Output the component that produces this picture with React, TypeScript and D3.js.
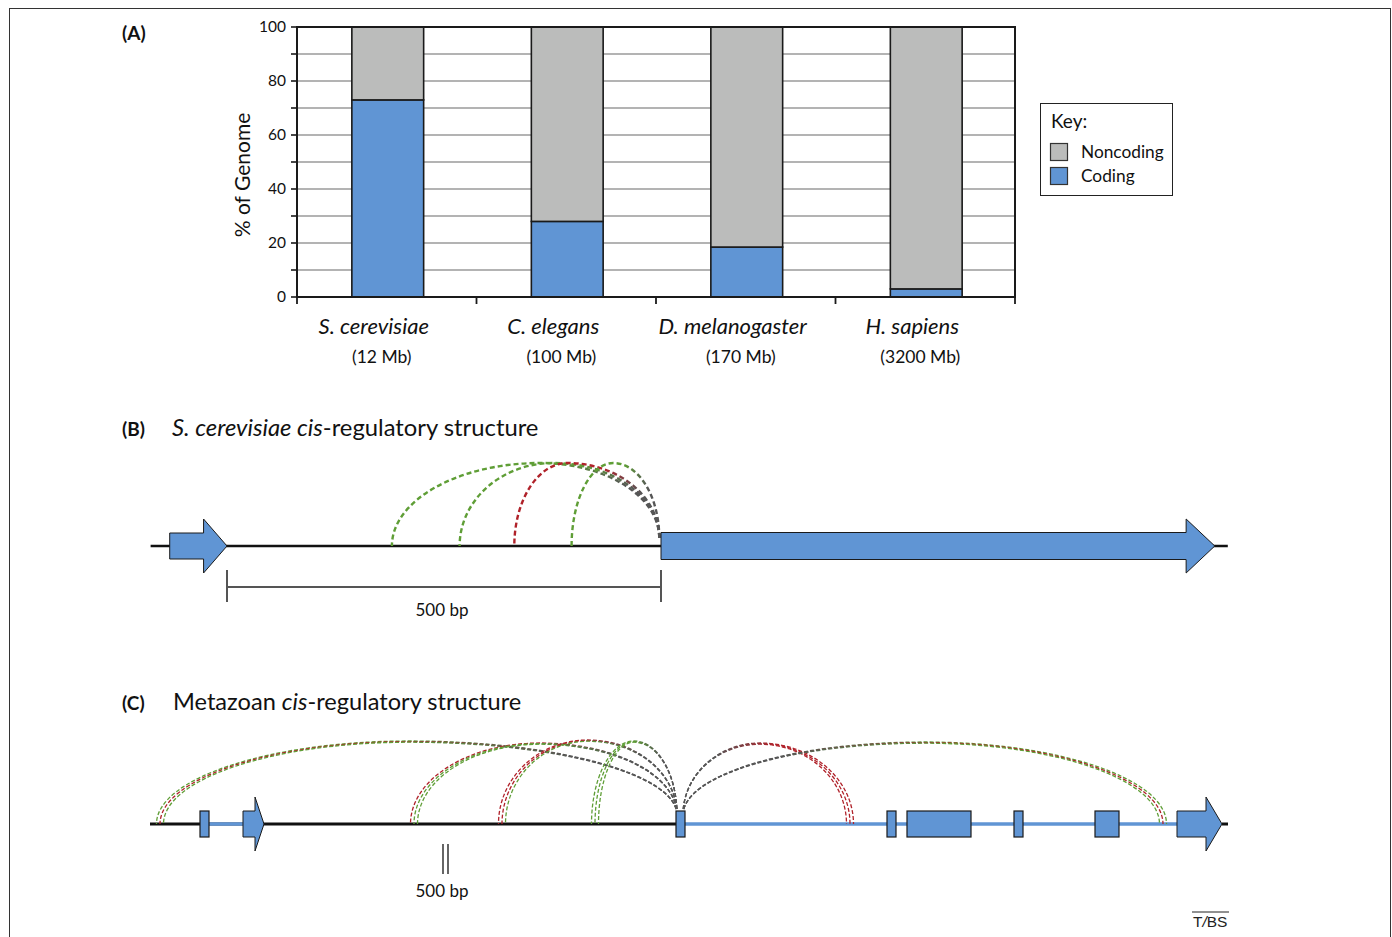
import React from "react";
import * as d3 from "d3";

// ---------- Panel A data ----------
const categories = ["S. cerevisiae", "C. elegans", "D. melanogaster", "H. sapiens"];
const genomeSizes = ["(12 Mb)", "(100 Mb)", "(170 Mb)", "(3200 Mb)"];
const codingPct = [73, 28, 18.5, 3];
const noncodingPct = [27, 72, 81.5, 97];
const yTickLabels = [0, 20, 40, 60, 80, 100];
const yMinorTicks = [0, 10, 20, 30, 40, 50, 60, 70, 80, 90, 100];
const legendKeys = ["Noncoding", "Coding"];

// ---------- Panel B data (bp, 0 = end of upstream gene) ----------
const bLine = [-88, 1153];
const bUpGene = [-66, -27, 0]; // start, head start, tip
const bDownGene = [500, 1105, 1138];
const bScaleBar = [0, 500];
const bArcSources = [190, 268, 331, 397];
const bArcPeaks = [361, 376, 392, 445];
const bArcTypes = ["act", "act", "rep", "act"];
const bArcTarget = 498;

// ---------- Panel C data (kb, 0 = target gene start) ----------
const cLine = [-53, 54.8];
const cUpExon = [-48, -47.1];
const cUpArrow = [-43.7, -42.5, -41.6];
const cTargetExon = [-0.4, 0.5];
const cExons = [[20.7, 21.6], [22.7, 29.1], [33.4, 34.3], [41.5, 43.9]];
const cArrow = [49.7, 52.6, 54.2];
const cScaleBar = [-23.7, -23.2];
const cArcSources = [-52, -26.6, -17.8, -8.5, 17, 48.3];
const cArcPeaks = [-27, -14, -9.2, -4.6, 8, 24.5];
const cArcBundles = [
  ["act", "rep", "act"],
  ["rep", "act", "act"],
  ["rep", "rep", "act"],
  ["act", "act", "act"],
  ["rep", "rep", "rep"],
  ["act", "rep", "act"],
];

const BLUE = "#6095d4";
const GRAY_BAR = "#bbbcbb";
const ARC_COLORS: Record<string, string> = { act: "#5f9e36", rep: "#b0222a" };
const ARC_GRAY = "#565656";
const FONT = "Lato, 'Open Sans', sans-serif";

// Arc drawn from the target end (xt, yt) back to the source (x0, y0) so dashes line up at the target.
function arcPath(x0: number, y0: number, xp: number, yTop: number, xt: number, yt: number) {
  const k = 0.5523;
  const p = d3.path();
  const rx1 = xp - x0;
  const ry1 = y0 - yTop;
  const rx2 = xt - xp;
  const ry2 = yt - yTop;
  p.moveTo(xt, yt);
  p.bezierCurveTo(xt, yt - k * ry2, xp + k * rx2, yTop, xp, yTop);
  p.bezierCurveTo(xp - k * rx1, yTop, x0, y0 - k * ry1, x0, y0);
  return p.toString();
}

function arrowPoints(sx: (v: number) => number, g: number[], yc: number, bodyH: number, headH: number): [number, number][] {
  const [a, b, c] = g.map(sx);
  return [
    [a, yc - bodyH / 2],
    [b, yc - bodyH / 2],
    [b, yc - headH / 2],
    [c, yc],
    [b, yc + headH / 2],
    [b, yc + bodyH / 2],
    [a, yc + bodyH / 2],
  ];
}

const lineGen = d3.line();

export default function App() {
  // ----- Panel A scales -----
  const x = d3.scaleBand<string>().domain(categories).range([297, 1015]);
  const y = d3.scaleLinear().domain([0, 100]).range([297, 27]);
  const barW = x.step() * 0.4;
  const rows = categories.map((c, i) => ({ cat: c, coding: codingPct[i], noncoding: noncodingPct[i] }));
  const stacked = d3.stack<any>().keys(["coding", "noncoding"])(rows);
  const fills: Record<string, string> = { coding: BLUE, noncoding: GRAY_BAR };
  const sepTicks = [...categories.map((c) => x(c) as number), 1015];

  // ----- Panel B scale -----
  const bx = d3.scaleLinear().domain([0, 500]).range([227, 661]);
  const bY = 546;
  const bTop = 463;

  // ----- Panel C scale -----
  const cx = d3.scaleLinear().domain([0, 10]).range([680, 780]);
  const cY = 824;
  const cTops = [741, 743, 740, 741, 743, 742];

  const gradients: JSX.Element[] = [];
  const bPaths: JSX.Element[] = [];
  bArcSources.forEach((s, i) => {
    const id = `bg${i}`;
    const col = ARC_COLORS[bArcTypes[i]];
    const xs = bx(s), xt = bx(bArcTarget);
    gradients.push(
      <linearGradient key={id} id={id} gradientUnits="userSpaceOnUse" x1={xs} x2={xt} y1={0} y2={0}>
        <stop offset="0" stopColor={col} />
        <stop offset="0.6" stopColor={col} />
        <stop offset="0.88" stopColor={ARC_GRAY} />
        <stop offset="1" stopColor={ARC_GRAY} />
      </linearGradient>
    );
    bPaths.push(
      <path key={id} d={arcPath(xs, bY, bx(bArcPeaks[i]), bTop, xt, bY - 8)} fill="none" stroke={`url(#${id})`} strokeWidth={2.4} strokeDasharray="5 3" />
    );
  });

  const cPaths: JSX.Element[] = [];
  cArcSources.forEach((s, i) => {
    const xs0 = cx(s);
    const rightSide = s > 0;
    const xt = rightSide ? cx(cTargetExon[1]) - 2 : cx(cTargetExon[0]) + 1;
    const xp = cx(cArcPeaks[i]);
    cArcBundles[i].forEach((t, j) => {
      const off = (j - 1) * 3.5 * (rightSide ? -1 : 1);
      const xs = xs0 + off;
      const id = `cg${i}_${j}`;
      const col = ARC_COLORS[t];
      gradients.push(
        <linearGradient key={id} id={id} gradientUnits="userSpaceOnUse" x1={xs} x2={xt} y1={0} y2={0}>
          <stop offset="0" stopColor={col} />
          <stop offset="0.45" stopColor={col} />
          <stop offset="0.8" stopColor={ARC_GRAY} />
          <stop offset="1" stopColor={ARC_GRAY} />
        </linearGradient>
      );
      const d = arcPath(xs, cY, xp, cTops[i] + j * 0.6, xt, cY - 9);
      cPaths.push(
        <path key={id} d={d} fill="none" stroke={`url(#${id})`} strokeWidth={1.3} strokeDasharray="4 2" />
      );
    });
  });

  return (
    <svg width={1392} height={937} style={{ position: "absolute", left: 0, top: 0, background: "#fff" }} fontFamily={FONT}>
      <defs>{gradients}</defs>
      <rect x={9.5} y={8.5} width={1381} height={945} fill="none" stroke="#333" strokeWidth={1} />

      {/* ---------------- Panel A ---------------- */}
      <text x={122} y={40} fontSize={19} fontWeight="bold" fill="#111">(A)</text>
      {yMinorTicks.filter((v) => v > 0 && v < 100).map((v) => (
        <line key={`g${v}`} x1={297} x2={1015} y1={y(v)} y2={y(v)} stroke="#9a9a9a" strokeWidth={1.3} />
      ))}
      {stacked.map((layer) =>
        layer.map((d, i) => (
          <rect key={`${layer.key}${i}`} x={(x(categories[i]) as number) + x.step() / 2 - barW / 2 + 1} width={barW}
            y={y(d[1])} height={y(d[0]) - y(d[1])} fill={fills[layer.key]} stroke="#1a1a1a" strokeWidth={1.6} />
        ))
      )}
      <rect x={297} y={27} width={718} height={270} fill="none" stroke="#1a1a1a" strokeWidth={2} />
      {yMinorTicks.map((v) => (
        <line key={`t${v}`} x1={291} x2={297} y1={y(v)} y2={y(v)} stroke="#1a1a1a" strokeWidth={1.6} />
      ))}
      {yTickLabels.map((v) => (
        <text key={`l${v}`} x={286} y={y(v)} dy="0.35em" textAnchor="end" fontSize={15.5} fill="#111">{v}</text>
      ))}
      {sepTicks.map((sx, i) => (
        <line key={`s${i}`} x1={sx} x2={sx} y1={297} y2={304} stroke="#1a1a1a" strokeWidth={1.8} />
      ))}
      <text transform="translate(250,175) rotate(-90)" textAnchor="middle" fontSize={21} fill="#111">% of Genome</text>
      {categories.map((c, i) => {
        const cxm = (x(c) as number) + x.step() / 2;
        return (
          <g key={c}>
            <text x={cxm - 13} y={334} textAnchor="middle" fontSize={22} fontStyle="italic" fill="#111">{c}</text>
            <text x={cxm - 5} y={363} textAnchor="middle" fontSize={17.5} fill="#111">{genomeSizes[i]}</text>
          </g>
        );
      })}
      <rect x={1040.5} y={103.5} width={132} height={92} fill="#fff" stroke="#222" strokeWidth={1} />
      <text x={1051} y={128} fontSize={19} fill="#111">Key:</text>
      {legendKeys.map((k, i) => (
        <g key={k}>
          <rect x={1050.5} y={143.5 + i * 24} width={17} height={17} fill={k === "Coding" ? BLUE : GRAY_BAR} stroke="#333" strokeWidth={1.2} />
          <text x={1081} y={158 + i * 24} fontSize={17.3} fill="#111">{k}</text>
        </g>
      ))}

      {/* ---------------- Panel B ---------------- */}
      <text x={122} y={436} fontSize={19} fontWeight="bold" fill="#111">(B)</text>
      <text x={172} y={436} fontSize={23.8} fill="#111">
        <tspan fontStyle="italic">S. cerevisiae cis</tspan>
        <tspan>-regulatory structure</tspan>
      </text>
      <line x1={bx(bLine[0])} x2={bx(bLine[1])} y1={bY} y2={bY} stroke="#111" strokeWidth={2.6} />
      {bPaths}
      <path d={lineGen(arrowPoints(bx, bUpGene, bY, 26, 54)) + "Z"} fill={BLUE} stroke="#1a1a1a" strokeWidth={1} />
      <path d={lineGen(arrowPoints(bx, bDownGene, bY, 27, 54)) + "Z"} fill={BLUE} stroke="#1a1a1a" strokeWidth={1} />
      <g stroke="#555" strokeWidth={2}>
        <line x1={bx(bScaleBar[0])} x2={bx(bScaleBar[1])} y1={587} y2={587} />
        <line x1={bx(bScaleBar[0])} x2={bx(bScaleBar[0])} y1={570} y2={602} />
        <line x1={bx(bScaleBar[1])} x2={bx(bScaleBar[1])} y1={570} y2={602} />
      </g>
      <text x={442} y={616} textAnchor="middle" fontSize={17} fill="#111">500 bp</text>

      {/* ---------------- Panel C ---------------- */}
      <text x={122} y={710} fontSize={19} fontWeight="bold" fill="#111">(C)</text>
      <text x={173} y={710} fontSize={23.6} fill="#111">
        <tspan>Metazoan </tspan>
        <tspan fontStyle="italic">cis</tspan>
        <tspan>-regulatory structure</tspan>
      </text>
      <line x1={cx(cLine[0])} x2={cx(cTargetExon[0])} y1={cY} y2={cY} stroke="#111" strokeWidth={3} />
      <line x1={cx(cUpExon[0])} x2={cx(cUpArrow[0])} y1={cY} y2={cY} stroke={BLUE} strokeWidth={3.5} />
      <line x1={cx(cTargetExon[1])} x2={cx(cArrow[0])} y1={cY} y2={cY} stroke={BLUE} strokeWidth={3.5} />
      <line x1={cx(cArrow[2])} x2={cx(cLine[1])} y1={cY} y2={cY} stroke="#111" strokeWidth={3} />
      {cPaths}
      <rect x={cx(cUpExon[0])} y={cY - 13} width={cx(cUpExon[1]) - cx(cUpExon[0])} height={26} fill={BLUE} stroke="#1a1a1a" strokeWidth={1.2} />
      <path d={lineGen(arrowPoints(cx, cUpArrow, cY, 26, 54)) + "Z"} fill={BLUE} stroke="#1a1a1a" strokeWidth={1} />
      <rect x={cx(cTargetExon[0])} y={cY - 13} width={cx(cTargetExon[1]) - cx(cTargetExon[0])} height={26} fill={BLUE} stroke="#1a1a1a" strokeWidth={1.2} />
      {cExons.map((e, i) => (
        <rect key={`e${i}`} x={cx(e[0])} y={cY - 13} width={cx(e[1]) - cx(e[0])} height={26} fill={BLUE} stroke="#1a1a1a" strokeWidth={1.2} />
      ))}
      <path d={lineGen(arrowPoints(cx, cArrow, cY, 26, 54)) + "Z"} fill={BLUE} stroke="#1a1a1a" strokeWidth={1} />
      <g stroke="#555" strokeWidth={1.8}>
        <line x1={cx(cScaleBar[0])} x2={cx(cScaleBar[0])} y1={844} y2={874} />
        <line x1={cx(cScaleBar[1])} x2={cx(cScaleBar[1])} y1={844} y2={874} />
      </g>
      <text x={442} y={897} textAnchor="middle" fontSize={17} fill="#111">500 bp</text>

      {/* credit */}
      <line x1={1192} x2={1229} y1={912} y2={912} stroke="#222" strokeWidth={1} />
      <text x={1193} y={927} fontSize={15.5} fontFamily="'Liberation Sans', Arial, sans-serif" fill="#222">
        T<tspan fontStyle="italic">/</tspan>BS
      </text>
    </svg>
  );
}
